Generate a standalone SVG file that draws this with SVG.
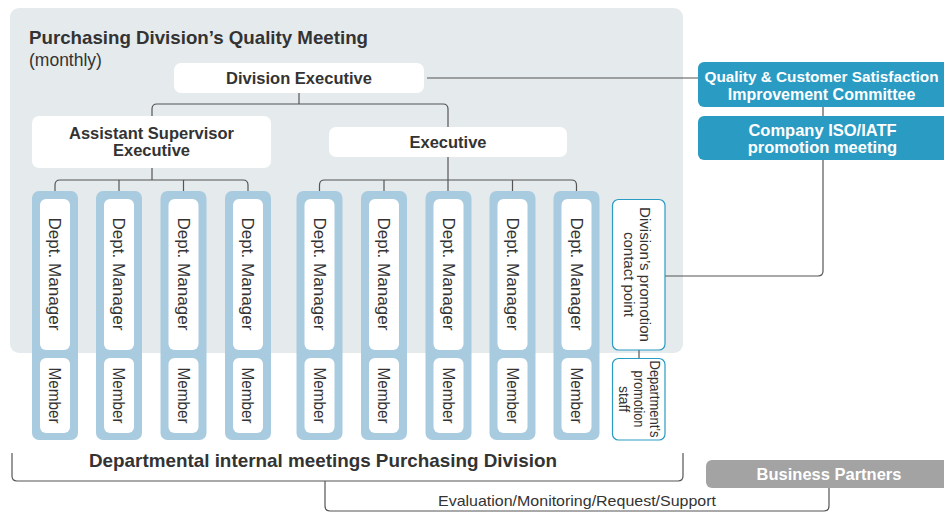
<svg xmlns="http://www.w3.org/2000/svg" width="944" height="513" viewBox="0 0 944 513">
<style>
.t{font-family:"Liberation Sans",Arial,sans-serif;fill:#333}
.b{font-weight:bold}
.w{fill:#fff}
.c{text-anchor:middle}
.ln{fill:none;stroke:#555;stroke-width:1.2}
.col{fill:#a9cbe0}
.in{fill:#fff}
.tb{fill:#fff;stroke:#2a9bc3;stroke-width:1.2}
.teal{fill:#2a9bc3}
.v{font-size:16.5px}
</style>
<rect x="10" y="8" width="673" height="345" rx="9" fill="#e5eaed"/>
<text class="t b" x="29" y="44" font-size="18.5" textLength="339" lengthAdjust="spacingAndGlyphs">Purchasing Division’s Quality Meeting</text>
<text class="t" x="29" y="66" font-size="17.5">(monthly)</text>

<g id="connectors">
<path class="ln" d="M299,93 V104"/>
<path class="ln" d="M152,116 V109 Q152,104 157,104 H443 Q448,104 448,109 V127"/>
<path class="ln" d="M152,168 V180"/>
<path class="ln" d="M55,191 V185 Q55,180 60,180 H243 Q248,180 248,185 V191"/>
<path class="ln" d="M119,180 V191 M183.5,180 V191"/>
<path class="ln" d="M448,157 V191"/>
<path class="ln" d="M319.5,191 V185 Q319.5,180 324.5,180 H571.5 Q576.5,180 576.5,185 V191"/>
<path class="ln" d="M384,180 V191 M512.5,180 V191"/>
<path class="ln" d="M55,350 V358 M119,350 V358 M183.5,350 V358 M248,350 V358 M319.5,350 V358 M384,350 V358 M448.5,350 V358 M512.5,350 V358 M576.5,350 V358 M639,350 V358"/>
<path class="ln" d="M427,78 H698"/>
<path class="ln" d="M823,107 V116"/>
<path class="ln" d="M665,276 H818 Q823,276 823,271 V160"/>
<path class="ln" d="M12,453 V476 Q12,481 17,481 H678 Q683,481 683,476 V453"/>
<path class="ln" d="M325,481 V506 Q325,511 330,511 H824 Q829,511 829,506 V487"/>
</g>

<g id="division-executive">
<rect x="174" y="63" width="250" height="30" rx="7" fill="#fff"/>
<text class="t b c" x="299" y="84" font-size="16.5">Division Executive</text>
</g>
<g id="assistant-supervisor">
<rect x="32" y="116" width="239" height="52" rx="7" fill="#fff"/>
<text class="t b c" x="151.5" y="138.5" font-size="16.5">Assistant Supervisor</text>
<text class="t b c" x="151.5" y="156" font-size="16.5">Executive</text>
</g>
<g id="executive">
<rect x="329" y="127" width="238" height="30" rx="7" fill="#fff"/>
<text class="t b c" x="448" y="147.5" font-size="16.5">Executive</text>
</g>

<g id="quality-committee">
<rect class="teal" x="698" y="62" width="256" height="45" rx="6"/>
<text class="t b w c" x="821.5" y="82" font-size="15.5" textLength="234" lengthAdjust="spacingAndGlyphs">Quality &amp; Customer Satisfaction</text>
<text class="t b w c" x="821.5" y="100" font-size="16">Improvement Committee</text>
</g>
<g id="iso-meeting">
<rect class="teal" x="698" y="116" width="256" height="44" rx="6"/>
<text class="t b w c" x="822.5" y="136" font-size="16.5">Company ISO/IATF</text>
<text class="t b w c" x="822.5" y="153" font-size="16.5">promotion meeting</text>
</g>

<g id="dept-1">
<rect class="col" x="32" y="191" width="46" height="249" rx="7"/>
<rect class="in" x="40" y="199" width="30" height="151" rx="6"/>
<rect class="in" x="40" y="358" width="30" height="75" rx="6"/>
<text class="t v c" transform="translate(55,274) rotate(90)" y="6" textLength="113" lengthAdjust="spacingAndGlyphs">Dept. Manager</text>
<text class="t v c" transform="translate(55,395.5) rotate(90)" y="6" textLength="56" lengthAdjust="spacingAndGlyphs">Member</text>
</g>
<g id="dept-2">
<rect class="col" x="96" y="191" width="46" height="249" rx="7"/>
<rect class="in" x="104" y="199" width="30" height="151" rx="6"/>
<rect class="in" x="104" y="358" width="30" height="75" rx="6"/>
<text class="t v c" transform="translate(119,274) rotate(90)" y="6" textLength="113" lengthAdjust="spacingAndGlyphs">Dept. Manager</text>
<text class="t v c" transform="translate(119,395.5) rotate(90)" y="6" textLength="56" lengthAdjust="spacingAndGlyphs">Member</text>
</g>
<g id="dept-3">
<rect class="col" x="160.5" y="191" width="46" height="249" rx="7"/>
<rect class="in" x="168.5" y="199" width="30" height="151" rx="6"/>
<rect class="in" x="168.5" y="358" width="30" height="75" rx="6"/>
<text class="t v c" transform="translate(183.5,274) rotate(90)" y="6" textLength="113" lengthAdjust="spacingAndGlyphs">Dept. Manager</text>
<text class="t v c" transform="translate(183.5,395.5) rotate(90)" y="6" textLength="56" lengthAdjust="spacingAndGlyphs">Member</text>
</g>
<g id="dept-4">
<rect class="col" x="225" y="191" width="46" height="249" rx="7"/>
<rect class="in" x="233" y="199" width="30" height="151" rx="6"/>
<rect class="in" x="233" y="358" width="30" height="75" rx="6"/>
<text class="t v c" transform="translate(248,274) rotate(90)" y="6" textLength="113" lengthAdjust="spacingAndGlyphs">Dept. Manager</text>
<text class="t v c" transform="translate(248,395.5) rotate(90)" y="6" textLength="56" lengthAdjust="spacingAndGlyphs">Member</text>
</g>
<g id="dept-5">
<rect class="col" x="296.5" y="191" width="46" height="249" rx="7"/>
<rect class="in" x="304.5" y="199" width="30" height="151" rx="6"/>
<rect class="in" x="304.5" y="358" width="30" height="75" rx="6"/>
<text class="t v c" transform="translate(319.5,274) rotate(90)" y="6" textLength="113" lengthAdjust="spacingAndGlyphs">Dept. Manager</text>
<text class="t v c" transform="translate(319.5,395.5) rotate(90)" y="6" textLength="56" lengthAdjust="spacingAndGlyphs">Member</text>
</g>
<g id="dept-6">
<rect class="col" x="361" y="191" width="46" height="249" rx="7"/>
<rect class="in" x="369" y="199" width="30" height="151" rx="6"/>
<rect class="in" x="369" y="358" width="30" height="75" rx="6"/>
<text class="t v c" transform="translate(384,274) rotate(90)" y="6" textLength="113" lengthAdjust="spacingAndGlyphs">Dept. Manager</text>
<text class="t v c" transform="translate(384,395.5) rotate(90)" y="6" textLength="56" lengthAdjust="spacingAndGlyphs">Member</text>
</g>
<g id="dept-7">
<rect class="col" x="425.5" y="191" width="46" height="249" rx="7"/>
<rect class="in" x="433.5" y="199" width="30" height="151" rx="6"/>
<rect class="in" x="433.5" y="358" width="30" height="75" rx="6"/>
<text class="t v c" transform="translate(448.5,274) rotate(90)" y="6" textLength="113" lengthAdjust="spacingAndGlyphs">Dept. Manager</text>
<text class="t v c" transform="translate(448.5,395.5) rotate(90)" y="6" textLength="56" lengthAdjust="spacingAndGlyphs">Member</text>
</g>
<g id="dept-8">
<rect class="col" x="489.5" y="191" width="46" height="249" rx="7"/>
<rect class="in" x="497.5" y="199" width="30" height="151" rx="6"/>
<rect class="in" x="497.5" y="358" width="30" height="75" rx="6"/>
<text class="t v c" transform="translate(512.5,274) rotate(90)" y="6" textLength="113" lengthAdjust="spacingAndGlyphs">Dept. Manager</text>
<text class="t v c" transform="translate(512.5,395.5) rotate(90)" y="6" textLength="56" lengthAdjust="spacingAndGlyphs">Member</text>
</g>
<g id="dept-9">
<rect class="col" x="553.5" y="191" width="46" height="249" rx="7"/>
<rect class="in" x="561.5" y="199" width="30" height="151" rx="6"/>
<rect class="in" x="561.5" y="358" width="30" height="75" rx="6"/>
<text class="t v c" transform="translate(576.5,274) rotate(90)" y="6" textLength="113" lengthAdjust="spacingAndGlyphs">Dept. Manager</text>
<text class="t v c" transform="translate(576.5,395.5) rotate(90)" y="6" textLength="56" lengthAdjust="spacingAndGlyphs">Member</text>
</g>

<g id="contact-point">
<rect class="tb" x="612.5" y="199.5" width="52.5" height="150.5" rx="6"/>
<g transform="translate(638.5,274.5) rotate(90)">
<text class="t c" y="-1" font-size="15" textLength="135" lengthAdjust="spacingAndGlyphs">Division’s promotion</text>
<text class="t c" y="15" font-size="15">contact point</text>
</g>
</g>
<g id="promotion-staff">
<rect class="tb" x="612.5" y="358.5" width="52.5" height="81.5" rx="6"/>
<g transform="translate(638.5,399) rotate(90)">
<text class="t c" y="-11" font-size="14" textLength="77" lengthAdjust="spacingAndGlyphs">Department’s</text>
<text class="t c" y="4.5" font-size="14" textLength="57" lengthAdjust="spacingAndGlyphs">promotion</text>
<text class="t c" y="20" font-size="14">staff</text>
</g>
</g>

<text class="t b c" x="323" y="467" font-size="18.5" textLength="468" lengthAdjust="spacingAndGlyphs">Departmental internal meetings Purchasing Division</text>

<g id="business-partners">
<rect x="706" y="460" width="248" height="28" rx="6" fill="#a3a3a3"/>
<text class="t b w c" x="829" y="479.5" font-size="16.5">Business Partners</text>
</g>
<text class="t c" x="577" y="506" font-size="15" fill="#444" textLength="278" lengthAdjust="spacingAndGlyphs">Evaluation/Monitoring/Request/Support</text>
</svg>
